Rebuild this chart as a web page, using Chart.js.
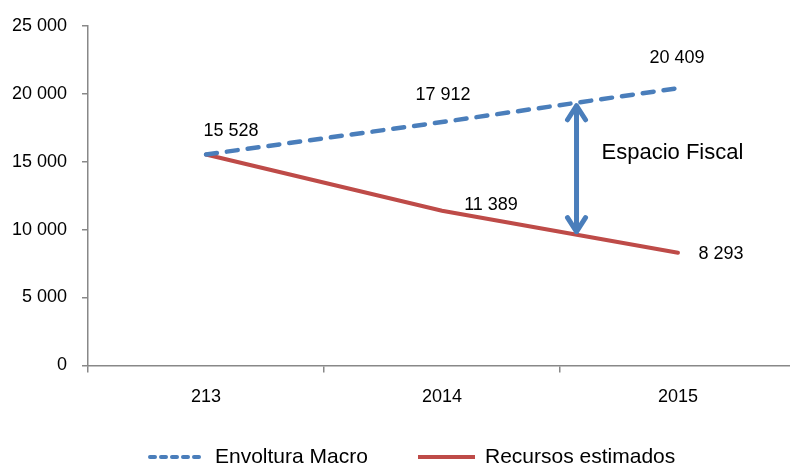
<!DOCTYPE html>
<html>
<head>
<meta charset="utf-8">
<script src="https://cdn.jsdelivr.net/npm/chart.js@4/dist/chart.umd.min.js"></script>
<style>
  html, body { margin: 0; padding: 0; background: #fff; overflow: hidden; }
  /* the original plot runs a few pixels past the right edge */
  #wrap { width: 796px; height: 465px; }
</style>
</head>
<body>
<div id="wrap"><canvas id="chart"></canvas></div>
<script>
// =====================
// Data
// =====================
const years = ["213", "2014", "2015"];
const envolturaMacro = [15528, 17912, 20409];
const recursosEstimados = [15528, 11389, 8293];
const yTicks = [0, 5000, 10000, 15000, 20000, 25000];
const arrowAt = 1.57; // category position of the "Espacio Fiscal" arrow

const BLUE = "#4a7ebb";
const RED = "#be4b48";
const FONT = "'Liberation Sans', Arial, sans-serif";

function fmt(v) {
  return String(v).replace(/\B(?=(\d{3})+(?!\d))/g, " ");
}

// =====================
// Labels, arrow, legend plugin
// =====================
const annotations = {
  id: "annotations",
  afterDatasetsDraw(chart) {
    const ctx = chart.ctx;
    const x = chart.scales.x, y = chart.scales.y;
    ctx.save();
    ctx.fillStyle = "#000";
    ctx.font = "18px " + FONT;
    ctx.textBaseline = "middle";
    ctx.textAlign = "center";

    // value labels (offsets relative to the point)
    const blueOff = [[25, -23], [1, -27], [-1, -30]];
    const redOff = [null, [49, -6], [43, 1]];
    envolturaMacro.forEach((v, i) => {
      const px = x.getPixelForValue(i), py = y.getPixelForValue(v);
      ctx.fillText(fmt(v), px + blueOff[i][0], py + blueOff[i][1]);
    });
    recursosEstimados.forEach((v, i) => {
      if (!redOff[i]) return;
      const px = x.getPixelForValue(i), py = y.getPixelForValue(v);
      ctx.fillText(fmt(v), px + redOff[i][0], py + redOff[i][1]);
    });

    // double arrow between the two lines
    const i0 = Math.floor(arrowAt), t = arrowAt - i0;
    const topV = envolturaMacro[i0] + t * (envolturaMacro[i0 + 1] - envolturaMacro[i0]);
    const botV = recursosEstimados[i0] + t * (recursosEstimados[i0 + 1] - recursosEstimados[i0]);
    const ax = x.getPixelForValue(i0) + t * (x.getPixelForValue(i0 + 1) - x.getPixelForValue(i0));
    const y1 = y.getPixelForValue(topV), y2 = y.getPixelForValue(botV);
    ctx.strokeStyle = BLUE;
    ctx.lineWidth = 5;
    ctx.lineCap = "round";
    ctx.lineJoin = "round";
    ctx.beginPath();
    ctx.moveTo(ax, y1 + 3);
    ctx.lineTo(ax, y2 - 3);
    ctx.moveTo(ax - 9, y1 + 17);
    ctx.lineTo(ax, y1 + 3);
    ctx.lineTo(ax + 9, y1 + 17);
    ctx.moveTo(ax - 9, y2 - 17);
    ctx.lineTo(ax, y2 - 3);
    ctx.lineTo(ax + 9, y2 - 17);
    ctx.stroke();

    ctx.font = "22px " + FONT;
    ctx.textAlign = "left";
    ctx.fillText("Espacio Fiscal", ax + 25, (y1 + y2) / 2 - 16);

    // legend
    const ly = 457;
    const items = [
      { x: 148, color: BLUE, dash: [5, 6], text: chart.data.datasets[0].label },
      { x: 418, color: RED, dash: [], text: chart.data.datasets[1].label }
    ];
    ctx.font = "21px " + FONT;
    items.forEach(it => {
      ctx.strokeStyle = it.color;
      ctx.lineWidth = 4;
      ctx.lineCap = it.dash.length ? "round" : "butt";
      ctx.setLineDash(it.dash);
      ctx.beginPath();
      ctx.moveTo(it.x + (it.dash.length ? 2 : 0), ly);
      ctx.lineTo(it.x + 57, ly);
      ctx.stroke();
      ctx.setLineDash([]);
      ctx.fillStyle = "#000";
      ctx.fillText(it.text, it.x + 67, ly);
    });
    ctx.restore();
  }
};

// =====================
// Chart
// =====================
new Chart(document.getElementById("chart"), {
  type: "line",
  data: {
    labels: years,
    datasets: [
      {
        label: "Envoltura Macro",
        data: envolturaMacro,
        borderColor: BLUE,
        backgroundColor: BLUE,
        borderWidth: 4.5,
        borderDash: [11, 10],
        borderCapStyle: "round",
        pointRadius: 0,
        tension: 0
      },
      {
        label: "Recursos estimados",
        data: recursosEstimados,
        borderColor: RED,
        backgroundColor: RED,
        borderWidth: 4,
        borderCapStyle: "round",
        pointRadius: 0,
        tension: 0
      }
    ]
  },
  options: {
    responsive: true,
    maintainAspectRatio: false,
    animation: false,
    layout: { padding: { top: 6, right: 0, left: 0, bottom: 43 } },
    plugins: {
      tooltip: { enabled: false },
      legend: { display: false }
    },
    scales: {
      x: {
        offset: true,
        grid: { offset: true, drawOnChartArea: false, color: "#888", tickLength: 7, lineWidth: 1.5 },
        border: { color: "#888", width: 1.5 },
        ticks: { color: "#000", font: { family: FONT, size: 18 }, padding: 14, maxRotation: 0 }
      },
      y: {
        min: 0,
        max: 25000,
        afterBuildTicks(scale) { scale.ticks = yTicks.map(v => ({ value: v })); },
        afterFit(scale) { scale.width = 88; },
        grid: { drawOnChartArea: false, color: "#888", tickLength: 6, lineWidth: 1.5 },
        border: { color: "#888", width: 1.5 },
        ticks: { color: "#000", font: { family: FONT, size: 18 }, padding: 15, callback: v => fmt(v) }
      }
    }
  },
  plugins: [annotations]
});
</script>
</body>
</html>
